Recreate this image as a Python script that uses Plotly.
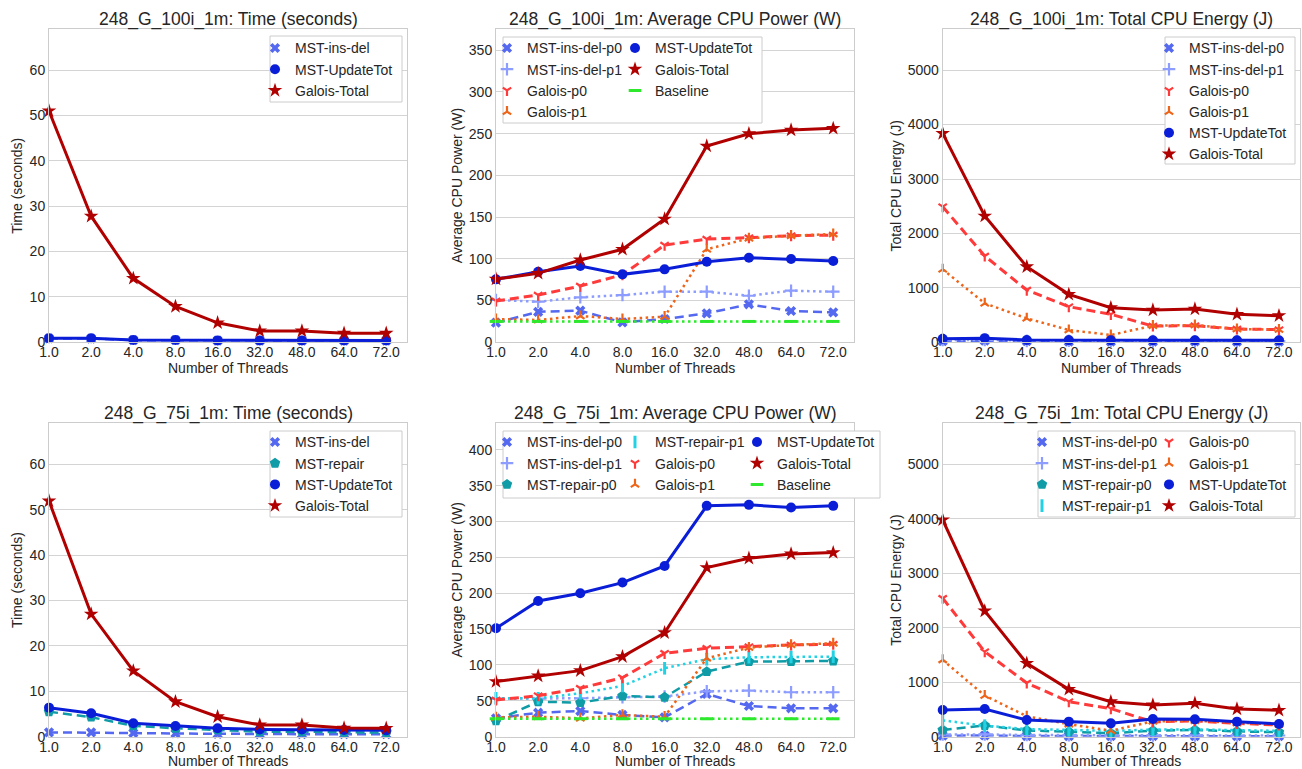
import plotly.graph_objects as go

# ---------------- data ----------------
threads = ["1.0", "2.0", "4.0", "8.0", "16.0", "32.0", "48.0", "64.0", "72.0"]

# 248_G_100i_1m : time (s)
t100_insdel = [0.85, 0.82, 0.48, 0.48, 0.38, 0.36, 0.36, 0.36, 0.36]
t100_update = [0.9, 0.88, 0.52, 0.5, 0.42, 0.4, 0.4, 0.4, 0.4]
t100_galois = [51.0, 27.8, 14.1, 7.9, 4.3, 2.5, 2.5, 2.0, 2.0]

# 248_G_100i_1m : power (W)
p100_insdel_p0 = [23.5, 36.5, 37.9, 23.9, 27.9, 34.7, 45.5, 37.5, 35.9]
p100_insdel_p1 = [50.7, 48.6, 53.9, 56.6, 60.6, 60.6, 55.8, 61.8, 60.6]
p100_galois_p0 = [49.5, 56.6, 67.4, 81.0, 116.5, 123.7, 125.3, 127.7, 128.5]
p100_galois_p1 = [27.9, 26.7, 31.5, 27.9, 30.7, 111.4, 124.5, 127.7, 129.7]
p100_update = [75.4, 84.6, 91.4, 81.4, 87.4, 96.6, 101.3, 99.8, 97.4]
p100_galois = [75.8, 82.6, 98.6, 111.4, 147.7, 235.1, 249.9, 254.3, 256.3]
p100_base = [25.0, 25.0, 25.0, 25.0, 25.0, 25.0, 25.0, 25.0, 25.0]

# 248_G_100i_1m : energy (J)
e100_insdel_p0 = [22, 30, 19, 12, 11, 12, 16, 13, 13]
e100_insdel_p1 = [44, 42, 27, 28, 24, 22, 20, 22, 22]
e100_galois_p0 = [2491, 1585, 960, 654, 514, 299, 305, 244, 233]
e100_galois_p1 = [1340, 716, 440, 226, 134, 305, 318, 244, 233]
e100_update = [66, 76, 43, 40, 37, 37, 38, 36, 36]
e100_galois = [3837, 2320, 1388, 881, 636, 593, 611, 514, 489]

# 248_G_75i_1m : time (s)
t75_insdel = [0.95, 0.95, 0.8, 0.7, 0.6, 0.55, 0.55, 0.55, 0.55]
t75_repair = [5.5, 4.3, 2.4, 1.85, 1.5, 1.1, 1.1, 0.95, 0.9]
t75_update = [6.4, 5.15, 2.95, 2.36, 1.85, 1.6, 1.6, 1.5, 1.4]
t75_galois = [51.9, 27.0, 14.5, 7.7, 4.4, 2.6, 2.6, 1.9, 1.85]

# 248_G_75i_1m : power (W)
p75_insdel_p0 = [25.6, 33.5, 35.8, 30.3, 27.0, 59.6, 42.8, 39.6, 39.6]
p75_insdel_p1 = [53.0, 53.0, 53.6, 55.0, 56.0, 63.3, 64.2, 62.0, 62.0]
p75_repair_p0 = [22.3, 48.8, 47.5, 56.8, 55.0, 90.7, 104.7, 104.7, 105.6]
p75_repair_p1 = [53.6, 53.6, 60.5, 70.7, 95.4, 108.0, 110.8, 111.2, 111.6]
p75_galois_p0 = [51.2, 57.2, 67.5, 82.3, 116.3, 123.3, 125.6, 128.0, 128.9]
p75_galois_p1 = [27.0, 27.9, 25.6, 30.3, 27.9, 109.4, 124.2, 128.0, 130.3]
p75_update = [151.2, 189.3, 200.0, 214.9, 238.1, 321.9, 323.3, 319.5, 321.9]
p75_galois = [76.8, 84.7, 92.1, 111.6, 145.0, 235.8, 248.8, 254.9, 256.7]
p75_base = [25.0, 25.0, 25.0, 25.0, 25.0, 25.0, 25.0, 25.0, 25.0]

# 248_G_75i_1m : energy (J)
e75_insdel_p0 = [18, 22, 12, 10, 8, 12, 10, 9, 9]
e75_insdel_p1 = [40, 42, 30, 28, 24, 24, 24, 22, 22]
e75_repair_p0 = [122, 205, 115, 92, 65, 110, 125, 98, 82]
e75_repair_p1 = [300, 202, 141, 123, 108, 130, 135, 120, 108]
e75_galois_p0 = [2540, 1560, 985, 643, 515, 272, 290, 245, 215]
e75_galois_p1 = [1408, 755, 375, 230, 110, 281, 292, 251, 222]
e75_update = [490, 509, 306, 276, 245, 325, 318, 276, 233]
e75_galois = [3978, 2307, 1347, 870, 643, 582, 613, 509, 485]

titles = [
    "248_G_100i_1m: Time (seconds)",
    "248_G_100i_1m: Average CPU Power (W)",
    "248_G_100i_1m: Total CPU Energy (J)",
    "248_G_75i_1m: Time (seconds)",
    "248_G_75i_1m: Average CPU Power (W)",
    "248_G_75i_1m: Total CPU Energy (J)",
]
ylabels = ["Time (seconds)", "Average CPU Power (W)", "Total CPU Energy (J)",
           "Time (seconds)", "Average CPU Power (W)", "Total CPU Energy (J)"]
xlabel = "Number of Threads"

# ---------------- styles ----------------
W, H = 1302, 769
FONT = "Liberation Sans, Arial, sans-serif"
TXT = "#262626"
GRID = "#d4d4d4"

C_ID0 = "#5468f0"
C_ID1 = "#8c9cff"
C_RP0 = "#0f9ca6"
C_RP1 = "#22d2e4"
C_GP0 = "#ff3a3a"
C_GP1 = "#ee6418"
C_UPD = "#0a1ed8"
C_GT = "#b00000"
C_BASE = "#2ee82e"

DASH = "9px,5px"
DOT = "2.5px,3.5px"

STY = {
    "ins-del-p0": dict(color=C_ID0, dash=DASH, width=2.5, symbol="x", size=9, lw=0),
    "ins-del-p1": dict(color=C_ID1, dash=DOT, width=2.5, symbol="cross-thin", size=9, lw=2.2),
    "repair-p0": dict(color=C_RP0, dash=DASH, width=2.5, symbol="pentagon", size=11, lw=0),
    "repair-p1": dict(color=C_RP1, dash=DOT, width=2.5, symbol="line-ns", size=9, lw=3),
    "galois-p0": dict(color=C_GP0, dash=DASH, width=3, symbol="y-down", size=7, lw=2.2),
    "galois-p1": dict(color=C_GP1, dash=DOT, width=2.5, symbol="y-up", size=7, lw=2.2),
    "update": dict(color=C_UPD, dash="solid", width=3, symbol="circle", size=10, lw=0),
    "galois": dict(color=C_GT, dash="solid", width=3, symbol="star", size=11, lw=0),
    "base": dict(color=C_BASE, dash=DOT, width=2.5, symbol="line-ew", size=9, lw=3),
}

# plot-area pixel boxes: (left, right, top, bottom)
COLS = [(49, 407.3), (496, 854.3), (942.7, 1300)]
YTITLE_OFF = [32, 39.5, 47]
ROWS = [(29.3, 342.3), (423.3, 736.7)]
XTITLE_OFF = [26, 24.5]
YMAX = [69, 375, 5750, 69, 437, 5750]
YDT = [10, 50, 1000, 10, 50, 1000]

fig = go.Figure()


def marker_of(s):
    m = dict(symbol=s["symbol"], size=s["size"], color=s["color"])
    if s["lw"]:
        m["line"] = dict(color=s["color"], width=s["lw"])
    else:
        m["line"] = dict(width=0)
    return m


def ax(n, kind):
    return kind if n == 1 else "%s%d" % (kind, n)


def add_series(n, y, key):
    s = STY[key]
    fig.add_trace(go.Scatter(
        x=threads, y=y, mode="lines+markers", showlegend=False,
        xaxis=ax(n, "x"), yaxis=ax(n, "y"),
        line=dict(color=s["color"], width=s["width"], dash=s["dash"]),
        marker=marker_of(s), cliponaxis=False, hoverinfo="skip"))


def add_legend_item(n, name, key, legend):
    s = STY[key]
    fig.add_trace(go.Scatter(
        x=[None], y=[None], mode="markers", name=name, legend=legend,
        xaxis=ax(n, "x"), yaxis=ax(n, "y"),
        marker=marker_of(s), showlegend=True))


# subplot 1: 100i time
add_series(1, t100_insdel, "ins-del-p0")
add_series(1, t100_update, "update")
add_series(1, t100_galois, "galois")
# subplot 2: 100i power
add_series(2, p100_insdel_p0, "ins-del-p0")
add_series(2, p100_insdel_p1, "ins-del-p1")
add_series(2, p100_galois_p0, "galois-p0")
add_series(2, p100_galois_p1, "galois-p1")
add_series(2, p100_update, "update")
add_series(2, p100_galois, "galois")
add_series(2, p100_base, "base")
# subplot 3: 100i energy
add_series(3, e100_insdel_p0, "ins-del-p0")
add_series(3, e100_insdel_p1, "ins-del-p1")
add_series(3, e100_galois_p0, "galois-p0")
add_series(3, e100_galois_p1, "galois-p1")
add_series(3, e100_update, "update")
add_series(3, e100_galois, "galois")
# subplot 4: 75i time
add_series(4, t75_insdel, "ins-del-p0")
add_series(4, t75_repair, "repair-p0")
add_series(4, t75_update, "update")
add_series(4, t75_galois, "galois")
# subplot 5: 75i power
add_series(5, p75_insdel_p0, "ins-del-p0")
add_series(5, p75_insdel_p1, "ins-del-p1")
add_series(5, p75_repair_p0, "repair-p0")
add_series(5, p75_repair_p1, "repair-p1")
add_series(5, p75_galois_p0, "galois-p0")
add_series(5, p75_galois_p1, "galois-p1")
add_series(5, p75_update, "update")
add_series(5, p75_galois, "galois")
add_series(5, p75_base, "base")
# subplot 6: 75i energy
add_series(6, e75_insdel_p0, "ins-del-p0")
add_series(6, e75_insdel_p1, "ins-del-p1")
add_series(6, e75_repair_p0, "repair-p0")
add_series(6, e75_repair_p1, "repair-p1")
add_series(6, e75_galois_p0, "galois-p0")
add_series(6, e75_galois_p1, "galois-p1")
add_series(6, e75_update, "update")
add_series(6, e75_galois, "galois")

# legends: (subplot, legend id, [(name, style)])
LEG = [
    (1, "legend", [("MST-ins-del", "ins-del-p0"), ("MST-UpdateTot", "update"), ("Galois-Total", "galois")]),
    (2, "legend2", [("MST-ins-del-p0", "ins-del-p0"), ("MST-ins-del-p1", "ins-del-p1"),
                    ("Galois-p0", "galois-p0"), ("Galois-p1", "galois-p1")]),
    (2, "legend3", [("MST-UpdateTot", "update"), ("Galois-Total", "galois"), ("Baseline", "base")]),
    (3, "legend4", [("MST-ins-del-p0", "ins-del-p0"), ("MST-ins-del-p1", "ins-del-p1"),
                    ("Galois-p0", "galois-p0"), ("Galois-p1", "galois-p1"),
                    ("MST-UpdateTot", "update"), ("Galois-Total", "galois")]),
    (4, "legend5", [("MST-ins-del", "ins-del-p0"), ("MST-repair", "repair-p0"),
                    ("MST-UpdateTot", "update"), ("Galois-Total", "galois")]),
    (5, "legend6", [("MST-ins-del-p0", "ins-del-p0"), ("MST-ins-del-p1", "ins-del-p1"),
                    ("MST-repair-p0", "repair-p0")]),
    (5, "legend7", [("MST-repair-p1", "repair-p1"), ("Galois-p0", "galois-p0"), ("Galois-p1", "galois-p1")]),
    (5, "legend8", [("MST-UpdateTot", "update"), ("Galois-Total", "galois"), ("Baseline", "base")]),
    (6, "legend9", [("MST-ins-del-p0", "ins-del-p0"), ("MST-ins-del-p1", "ins-del-p1"),
                    ("MST-repair-p0", "repair-p0"), ("MST-repair-p1", "repair-p1")]),
    (6, "legend10", [("Galois-p0", "galois-p0"), ("Galois-p1", "galois-p1"),
                     ("MST-UpdateTot", "update"), ("Galois-Total", "galois")]),
]
# reference text start x, first row centre y (pixels)
LEG_POS = {
    "legend": (291, 48), "legend2": (523, 48), "legend3": (651, 48), "legend4": (1185, 48),
    "legend5": (291, 442), "legend6": (523, 442), "legend7": (651, 442), "legend8": (773, 442),
    "legend9": (1058, 442), "legend10": (1185, 442),
}
LEG_SHIFT = 4
# legend frames (pixels): x0, x1, y0, y1
FRAMES = [(270, 402, 36, 102), (503, 762, 37, 123), (1165, 1295, 37, 164),
          (270, 402, 431, 517), (503, 880, 431, 498), (1038, 1295, 431, 517)]

for n, lid, items in LEG:
    for name, key in items:
        add_legend_item(n, name, key, lid)

layout = dict(
    template="none",
    width=W, height=H, margin=dict(l=0, r=0, t=0, b=0, pad=0, autoexpand=False),
    paper_bgcolor="white", plot_bgcolor="white",
    font=dict(family=FONT, size=14, color=TXT),
    showlegend=True,
)

for lid, (tx, ty) in LEG_POS.items():
    layout[lid] = dict(
        x=(tx - 40 + LEG_SHIFT) / W, y=1 - (ty - 15.6) / H, xanchor="left", yanchor="top",
        bgcolor="rgba(0,0,0,0)", borderwidth=0, orientation="v",
        font=dict(family=FONT, size=14, color=TXT), itemwidth=30, tracegroupgap=0,
        itemclick=False, itemdoubleclick=False,
    )

annotations = []
shapes = []
for i in range(6):
    n = i + 1
    r, c = divmod(i, 3)
    x0, x1 = COLS[c]
    y0, y1 = ROWS[r]
    layout[ax(n, "xaxis")] = dict(
        domain=[x0 / W, x1 / W], anchor=ax(n, "y"), type="category",
        categoryorder="array", categoryarray=threads, range=[0, 8.5],
        automargin=False, ticklabelstandoff=-3,
        showgrid=False, zeroline=False, showline=True, linecolor="#cccccc", linewidth=1,
        mirror=True, ticks="", tickfont=dict(size=14, color=TXT, family=FONT),
        fixedrange=True,
    )
    layout[ax(n, "yaxis")] = dict(
        domain=[1 - y1 / H, 1 - y0 / H], anchor=ax(n, "x"), range=[0, YMAX[i]],
        automargin=False,
        tickmode="linear", tick0=0, dtick=YDT[i],
        showgrid=True, gridcolor=GRID, gridwidth=1, zeroline=False,
        showline=True, linecolor="#cccccc", linewidth=1, mirror=True, ticks="",
        tickfont=dict(size=14, color=TXT, family=FONT), fixedrange=True,
    )
    cx = (x0 + x1) / 2
    cy = (y0 + y1) / 2
    annotations.append(dict(
        text=titles[i], x=cx / W, y=1 - (y0 - 9.5) / H, xref="paper", yref="paper",
        xanchor="center", yanchor="middle", showarrow=False,
        font=dict(size=17.5, color=TXT, family=FONT)))
    annotations.append(dict(
        text=xlabel, x=cx / W, y=1 - (y1 + XTITLE_OFF[r]) / H, xref="paper", yref="paper",
        xanchor="center", yanchor="middle", showarrow=False,
        font=dict(size=14, color=TXT, family=FONT)))
    annotations.append(dict(
        text=ylabels[i], x=(x0 - YTITLE_OFF[c]) / W, y=1 - cy / H, xref="paper", yref="paper",
        xanchor="center", yanchor="middle", showarrow=False, textangle=-90,
        font=dict(size=14, color=TXT, family=FONT)))

for (fx0, fx1, fy0, fy1) in FRAMES:
    shapes.append(dict(
        type="rect", xref="paper", yref="paper",
        x0=fx0 / W, x1=fx1 / W, y0=1 - fy1 / H, y1=1 - fy0 / H,
        fillcolor="white", line=dict(color="#cccccc", width=1), layer="above"))

layout["annotations"] = annotations
layout["shapes"] = shapes
fig.update_layout(**layout)

fig.write_html("out.html", include_plotlyjs=True, config={"displayModeBar": False})
